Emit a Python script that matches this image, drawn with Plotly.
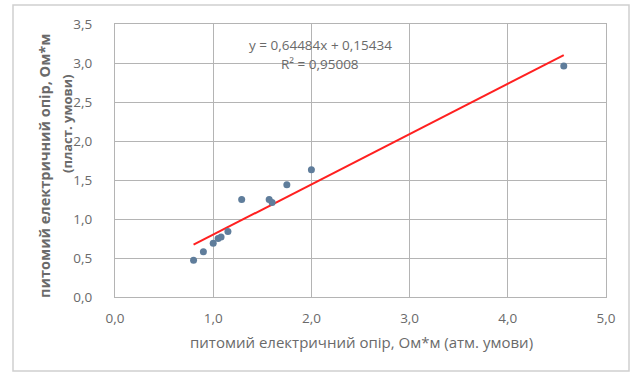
import plotly.graph_objects as go

x_atm = [0.80, 0.90, 1.00, 1.05, 1.08, 1.15, 1.29, 1.57, 1.60, 1.75, 2.00, 4.57]
y_plast = [0.47, 0.58, 0.69, 0.75, 0.77, 0.84, 1.25, 1.25, 1.21, 1.44, 1.63, 2.96]
slope = 0.64484
intercept = 0.15434
r2_text = "R² = 0,95008"
eq_text = "y = 0,64484x + 0,15434"
x_ticks = [0, 1, 2, 3, 4, 5]
x_tick_labels = ["0,0", "1,0", "2,0", "3,0", "4,0", "5,0"]
y_ticks = [0, 0.5, 1, 1.5, 2, 2.5, 3, 3.5]
y_tick_labels = ["0,0", "0,5", "1,0", "1,5", "2,0", "2,5", "3,0", "3,5"]

FONT = "Open Sans"
GRAY = "#6a6a6a"
GRID = "#b4b4b4"

x_line = [min(x_atm), max(x_atm)]
y_line = [slope * v + intercept for v in x_line]

fig = go.Figure()
fig.add_trace(go.Scatter(x=x_line, y=y_line, mode="lines",
                         line=dict(color="#ff2020", width=2), hoverinfo="skip"))
fig.add_trace(go.Scatter(x=x_atm, y=y_plast, mode="markers",
                         marker=dict(color="#5f7d9b", size=7)))

W, H = 633, 372
L, R, T, B = 115, 27, 24, 75
pw, ph = W - L - R, H - T - B

def px(xp):
    return (xp - L) / pw

def py(yp):
    return (H - B - yp) / ph

fig.update_layout(
    width=W, height=H,
    margin=dict(l=L, r=R, t=T, b=B),
    paper_bgcolor="white", plot_bgcolor="white",
    showlegend=False,
    font=dict(family=FONT, color=GRAY, size=12),
    xaxis=dict(range=[0, 5], tickvals=x_ticks, ticktext=x_tick_labels,
               showgrid=True, gridcolor=GRID, gridwidth=1, zeroline=False,
               showline=True, linecolor=GRID, mirror=True, ticks="",
               ticklabelstandoff=9,
               tickfont=dict(size=13.5, color=GRAY), fixedrange=True),
    yaxis=dict(range=[0, 3.5], tickvals=y_ticks, ticktext=y_tick_labels,
               showgrid=True, gridcolor=GRID, gridwidth=1, zeroline=False,
               showline=True, linecolor=GRID, mirror=True, ticks="",
               ticklabelstandoff=19,
               tickfont=dict(size=13.5, color=GRAY), fixedrange=True),
)

def ann(text, x, y, size, angle=0):
    return dict(text=text, x=px(x), y=py(y), xref="paper", yref="paper",
                xanchor="center", yanchor="middle", showarrow=False,
                textangle=angle, font=dict(size=size, color=GRAY))

annotations = [
    ann(eq_text, 320, 45, 13.5),
    ann(r2_text, 320, 64, 13.5),
    ann("питомий електричний опір, Ом*м (атм. умови)", 361, 342, 15),
    ann("<b>питомий електричний опір, Ом*м</b>", 45, 166, 14.5, -90),
    ann("<b>(пласт. умови)</b>", 67, 124, 13, -90),
]
fig.update_layout(annotations=annotations)

fig.add_shape(type="rect", xref="paper", yref="paper",
              x0=px(13), x1=px(629), y0=py(371), y1=py(5),
              line=dict(color="#d0d0d0", width=1.5), layer="below")

fig.write_html("out.html")
